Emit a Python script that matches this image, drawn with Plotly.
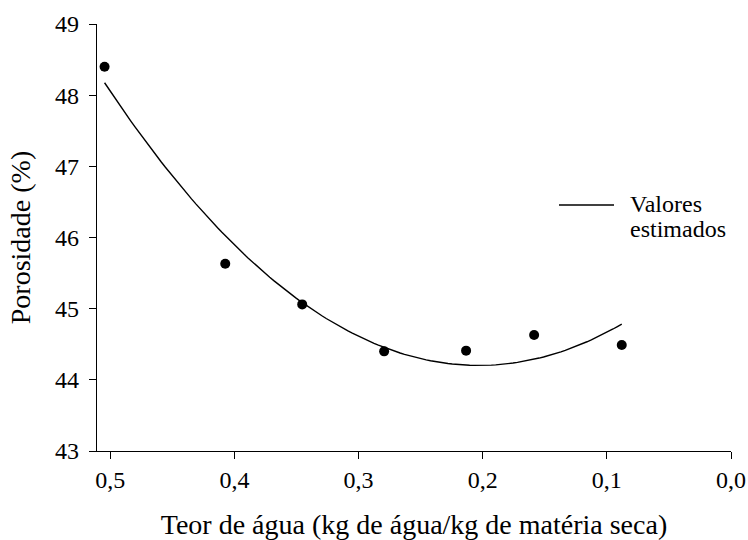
import numpy as np
import plotly.graph_objects as go

# Teor de água (kg de água / kg de matéria seca) and porosidade (%)
teor_agua = [0.5046, 0.4074, 0.3454, 0.2794, 0.2134, 0.1586, 0.0880]
porosidade = [48.40, 45.63, 45.06, 44.40, 44.41, 44.63, 44.49]

x_ticks = [0.5, 0.4, 0.3, 0.2, 0.1, 0.0]
y_ticks = [43, 44, 45, 46, 47, 48, 49]

# Quadratic regression for the estimated values
coef = np.polyfit(teor_agua, porosidade, 2)
x_fit = np.linspace(max(teor_agua), min(teor_agua), 120)
y_fit = np.polyval(coef, x_fit)

FONT = "Liberation Serif"

fig = go.Figure()
fig.add_trace(go.Scatter(
    x=x_fit, y=y_fit, mode="lines",
    line=dict(color="black", width=1.4),
    showlegend=False, hoverinfo="skip",
))
fig.add_trace(go.Scatter(
    x=teor_agua, y=porosidade, mode="markers",
    marker=dict(color="black", size=10),
    showlegend=False,
))

# Legend: line sample and two-line label
fig.add_shape(type="line", xref="paper", yref="paper",
              x0=0.7287, x1=0.8155, y0=0.576, y1=0.576,
              line=dict(color="black", width=1.4))
fig.add_annotation(text="Valores", xref="paper", yref="paper",
                   x=0.837, y=0.578, xanchor="left", yanchor="middle",
                   showarrow=False, font=dict(family=FONT, size=24, color="black"))
fig.add_annotation(text="estimados", xref="paper", yref="paper",
                   x=0.837, y=0.519, xanchor="left", yanchor="middle",
                   showarrow=False, font=dict(family=FONT, size=24, color="black"))

axis_common = dict(
    showgrid=False, zeroline=False, automargin=False,
    showline=True, linecolor="black", linewidth=1.4,
    ticks="outside", ticklen=7, tickwidth=1.4, tickcolor="black",
    tickfont=dict(family=FONT, size=24, color="black"),
)

fig.update_layout(
    width=748, height=540,
    margin=dict(l=97, r=17, t=24, b=89),
    paper_bgcolor="white", plot_bgcolor="white",
    separators=", ",
    font=dict(family=FONT, color="black"),
    xaxis=dict(
        **axis_common,
        range=[0.5107, 0.0],
        tickvals=x_ticks, tickformat=".1f",
        title=dict(text="Teor de água (kg de água/kg de matéria seca)",
                   font=dict(family=FONT, size=28, color="black"), standoff=24),
    ),
    yaxis=dict(
        **axis_common,
        range=[43, 49],
        tickvals=y_ticks,
        ticklabelstandoff=5,
        title=dict(text="Porosidade (%)",
                   font=dict(family=FONT, size=28, color="black"), standoff=16),
    ),
)

fig.write_html("out.html")
